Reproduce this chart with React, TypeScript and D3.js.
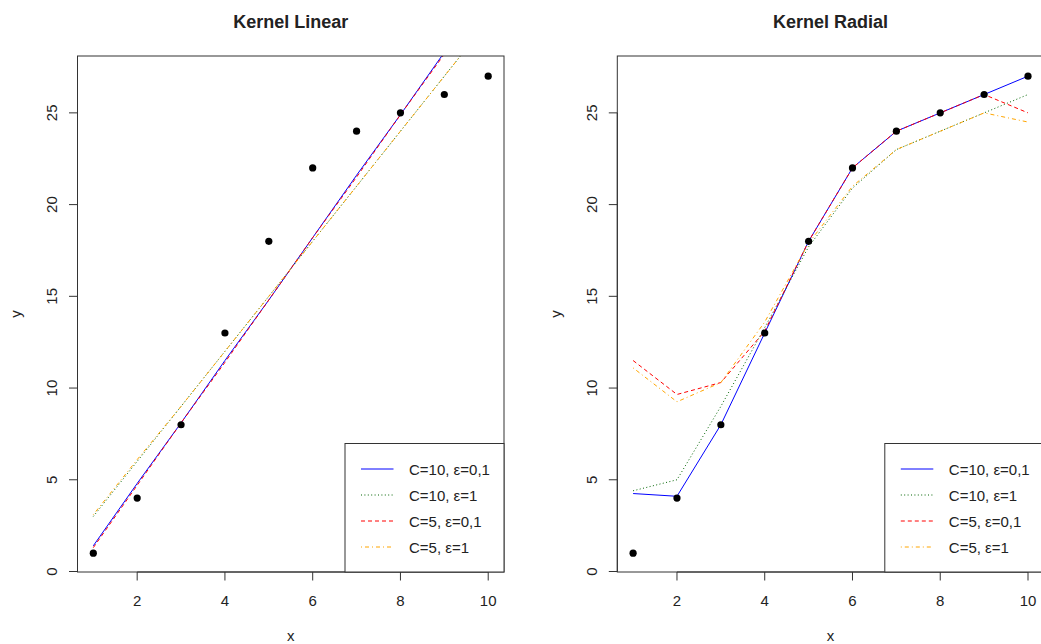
import React from "react";
import * as d3 from "d3";

const xs = [1, 2, 3, 4, 5, 6, 7, 8, 9, 10];
const obsY = [1, 4, 8, 13, 18, 22, 24, 25, 26, 27];

// Kernel Linear predictions
const linBlue = [1.4, 4.8, 8.1, 11.5, 14.8, 18.2, 21.6, 24.9, 28.3, 31.6];
const linGreen = [3.0, 6.0, 9.0, 12.0, 15.0, 18.0, 21.0, 24.0, 27.0, 30.0];
const linRed = [1.3, 4.7, 8.1, 11.4, 14.8, 18.2, 21.5, 24.9, 28.2, 31.6];
const linOrange = [3.1, 6.1, 9.0, 12.0, 15.0, 18.0, 21.0, 24.0, 27.0, 30.0];

// Kernel Radial predictions
const radBlue = [4.25, 4.1, 8.0, 13.0, 18.0, 22.0, 24.0, 25.0, 26.0, 27.0];
const radGreen = [4.4, 5.0, 9.0, 13.3, 17.7, 20.9, 23.0, 24.0, 25.0, 26.0];
const radRed = [11.5, 9.65, 10.3, 13.1, 18.0, 22.0, 24.0, 25.0, 26.0, 25.0];
const radOrange = [11.1, 9.25, 10.3, 13.6, 17.9, 21.0, 23.0, 24.0, 25.0, 24.5];

const legendLabels = ["C=10, ε=0,1", "C=10, ε=1", "C=5, ε=0,1", "C=5, ε=1"];
const seriesColors = ["#0000FF", "#006400", "#FF0000", "#FFA500"];
const seriesDash = ["none", "1,2.4", "4,3", "1,3,4,3"];
const xTicks = [2, 4, 6, 8, 10];
const yTicks = [0, 5, 10, 15, 20, 25];

const FONT = "'Liberation Sans', Arial, sans-serif";
const TXT = "#222";

type PanelProps = {
  id: string;
  title: string;
  left: number;
  right: number;
  series: number[][];
  yLabelX: number;
  tickLabelX: number;
};

const TOP = 56;
const BOTTOM = 572;

function Panel({ id, title, left, right, series, yLabelX, tickLabelX }: PanelProps) {
  const x = d3.scaleLinear().domain([0.64, 10.36]).range([left, right]);
  const y = d3.scaleLinear().domain([0, 28.1]).range([571.5, TOP]);
  const line = d3
    .line<number>()
    .x((_, i) => x(xs[i]))
    .y((d) => y(d));
  const cx = (left + right) / 2;
  const tickLen = 8.5;

  // legend geometry (bottomright, inset 0)
  const legLeft = right - 159;
  const legTop = 443.5;
  const rowH = 26;
  const firstRow = 469;

  return (
    <g>
      <defs>
        <clipPath id={`clip-${id}`}>
          <rect x={left} y={TOP} width={right - left} height={BOTTOM - TOP} />
        </clipPath>
      </defs>
      <text
        x={cx}
        y={28}
        textAnchor="middle"
        fontFamily={FONT}
        fontWeight="bold"
        fontSize={18}
        fill={TXT}
      >
        {title}
      </text>
      <g clipPath={`url(#clip-${id})`}>
        {series.map((s, k) => (
          <path
            key={k}
            d={line(s) || ""}
            fill="none"
            stroke={seriesColors[k]}
            strokeWidth={1}
            strokeDasharray={seriesDash[k]}
          />
        ))}
        {obsY.map((v, i) => (
          <circle key={i} cx={x(xs[i])} cy={y(v)} r={3.6} fill="#000" />
        ))}
      </g>
      {/* box */}
      <rect
        x={left}
        y={TOP}
        width={right - left}
        height={BOTTOM - TOP}
        fill="none"
        stroke="#333"
        strokeWidth={1}
      />
      {/* x axis */}
      <line x1={x(xTicks[0])} x2={x(xTicks[xTicks.length - 1])} y1={BOTTOM} y2={BOTTOM} stroke="#333" />
      {xTicks.map((t) => (
        <g key={t}>
          <line x1={x(t)} x2={x(t)} y1={BOTTOM} y2={BOTTOM + tickLen} stroke="#333" />
          <text
            x={x(t)}
            y={606}
            textAnchor="middle"
            fontFamily={FONT}
            fontSize={15}
            fill={TXT}
          >
            {t}
          </text>
        </g>
      ))}
      <text x={cx} y={641} textAnchor="middle" fontFamily={FONT} fontSize={15} fill={TXT}>
        x
      </text>
      {/* y axis */}
      <line x1={left} x2={left} y1={y(yTicks[0])} y2={y(yTicks[yTicks.length - 1])} stroke="#333" />
      {yTicks.map((t) => (
        <g key={t}>
          <line x1={left - tickLen} x2={left} y1={y(t)} y2={y(t)} stroke="#333" />
          <text
            transform={`translate(${tickLabelX},${y(t)}) rotate(-90)`}
            textAnchor="middle"
            fontFamily={FONT}
            fontSize={15}
            fill={TXT}
          >
            {t}
          </text>
        </g>
      ))}
      <text
        transform={`translate(${yLabelX},${(TOP + BOTTOM) / 2}) rotate(-90)`}
        textAnchor="middle"
        fontFamily={FONT}
        fontSize={15}
        fill={TXT}
      >
        y
      </text>
      {/* legend */}
      <rect
        x={legLeft}
        y={legTop}
        width={right - legLeft}
        height={BOTTOM - legTop}
        fill="#fff"
        stroke="#333"
        strokeWidth={1}
      />
      {legendLabels.map((lab, k) => (
        <g key={lab}>
          <line
            x1={legLeft + 16}
            x2={legLeft + 48.5}
            y1={firstRow + k * rowH}
            y2={firstRow + k * rowH}
            stroke={seriesColors[k]}
            strokeWidth={1}
            strokeDasharray={seriesDash[k]}
          />
          <text
            x={legLeft + 64}
            y={firstRow + k * rowH + 5.5}
            fontFamily={FONT}
            fontSize={15}
            fill={TXT}
          >
            {lab}
          </text>
        </g>
      ))}
    </g>
  );
}

export default function App() {
  return (
    <svg width={1041} height={644} style={{ position: "absolute", left: 0, top: 0, background: "#fff" }}>
      <rect x={0} y={0} width={1041} height={644} fill="#fff" />
      <Panel
        id="lin"
        title="Kernel Linear"
        left={77.5}
        right={504}
        series={[linBlue, linGreen, linRed, linOrange]}
        yLabelX={21}
        tickLabelX={57}
      />
      <Panel
        id="rad"
        title="Kernel Radial"
        left={617.3}
        right={1043.8}
        series={[radBlue, radGreen, radRed, radOrange]}
        yLabelX={561}
        tickLabelX={597}
      />
    </svg>
  );
}
